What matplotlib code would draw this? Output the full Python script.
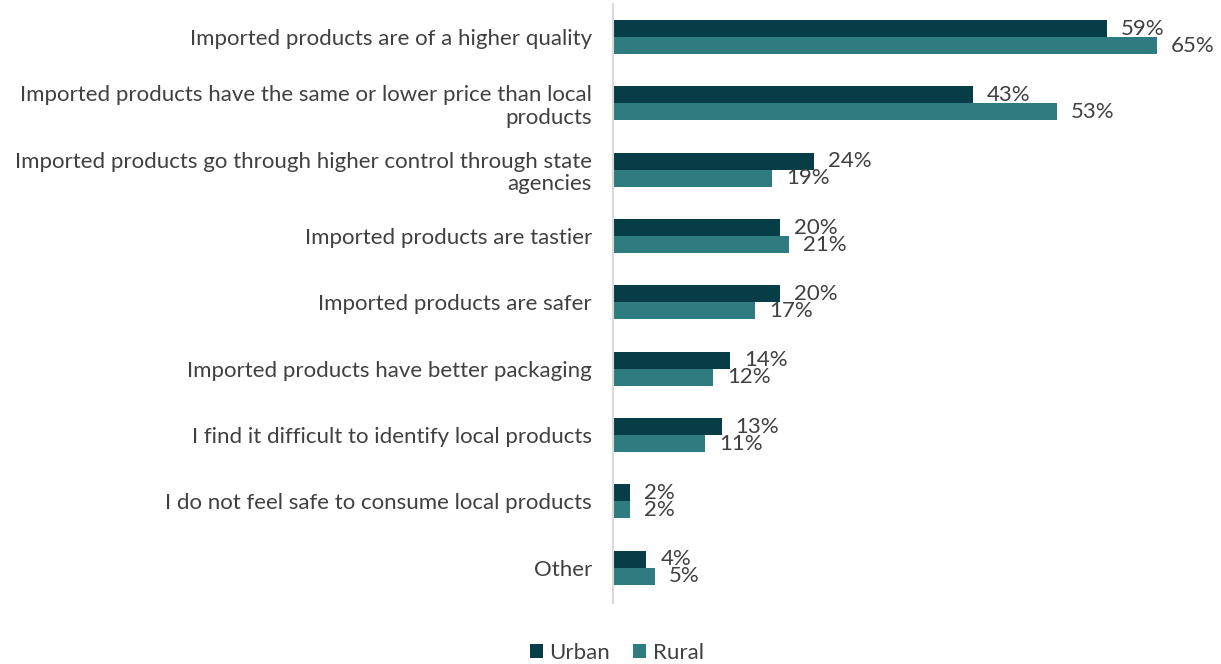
import numpy as np
import matplotlib.pyplot as plt

plt.rcParams['font.family'] = ['Lato', 'DejaVu Sans']

categories = [
    'Imported products are of a higher quality',
    'Imported products have the same or lower price than local\nproducts',
    'Imported products go through higher control through state\nagencies',
    'Imported products are tastier',
    'Imported products are safer',
    'Imported products have better packaging',
    'I find it difficult to identify local products',
    'I do not feel safe to consume local products',
    'Other',
]
urban = [59, 43, 24, 20, 20, 14, 13, 2, 4]
rural = [65, 53, 19, 21, 17, 12, 11, 2, 5]

urban_color = '#063d46'
rural_color = '#2e7b80'
text_color = '#404040'

fig = plt.figure(figsize=(12.21, 6.64), dpi=100)
ax = fig.add_axes([0.502, 0.092, 0.491, 0.902])

y = np.arange(len(categories))
h = 0.256
ax.barh(y - h / 2, urban, height=h, color=urban_color, label='Urban')
ax.barh(y + h / 2, rural, height=h, color=rural_color, label='Rural')

for i in range(len(categories)):
    ax.annotate(f'{urban[i]}%', (urban[i], y[i] - h / 2), xytext=(10, 0),
                textcoords='offset points', ha='left', va='center',
                fontsize=16, color=text_color)
    ax.annotate(f'{rural[i]}%', (rural[i], y[i] + h / 2), xytext=(10, 0),
                textcoords='offset points', ha='left', va='center',
                fontsize=16, color=text_color)

ax.set_xlim(0, 71.6)
ax.set_ylim(8.53, -0.5)
ax.set_yticks(y)
ax.set_yticklabels(categories, fontsize=16, color=text_color, ha='right',
                   linespacing=1.15)
ax.tick_params(axis='y', length=0, pad=15)
ax.set_xticks([])
for s in ['top', 'right', 'bottom']:
    ax.spines[s].set_visible(False)
ax.spines['left'].set_color('#d9d9d9')
ax.spines['left'].set_linewidth(1.5)

fig.legend(loc='center', bbox_to_anchor=(0.505, 0.017), ncol=2, frameon=False,
           fontsize=16, labelcolor=text_color, handlelength=0.6, handleheight=0.6,
           handletextpad=0.3, columnspacing=1.0)

fig.savefig('out.png', dpi=100)
